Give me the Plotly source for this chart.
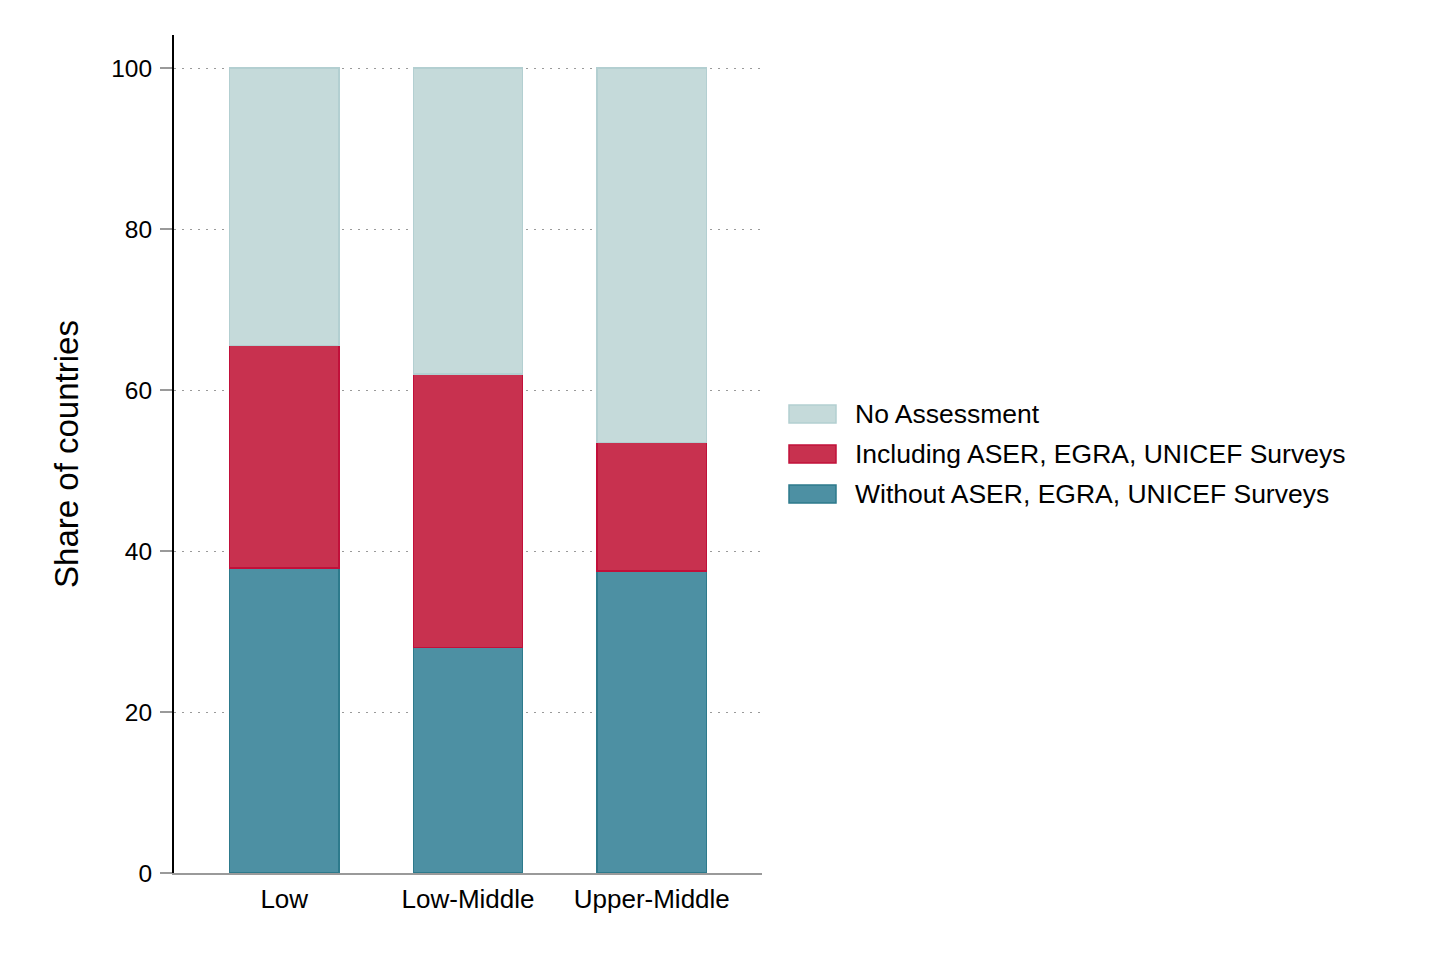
import plotly.graph_objects as go

categories = ["Low", "Low-Middle", "Upper-Middle"]
series_names = ["Without ASER, EGRA, UNICEF Surveys",
                "Including ASER, EGRA, UNICEF Surveys",
                "No Assessment"]
without_vals = [37.9, 28.0, 37.5]
including_vals = [27.6, 34.0, 16.0]
none_vals = [34.5, 38.0, 46.5]
fill_colors = ["#4d90a3", "#c8314f", "#c5dada"]
line_colors = ["#2d7a8c", "#c1103a", "#b3cfd1"]
y_ticks = [0, 20, 40, 60, 80, 100]

OFF = 8  # page offset of the figure
W, H = 1430 - OFF, 954 - OFF
L = 174 - OFF
T = 35 - OFF
R = W - (762 - OFF)
B = H - (873 - OFF)
FONT = "Liberation Sans, Helvetica, Arial, sans-serif"

fig = go.Figure()
for name, vals, fc, lc in zip(series_names, [without_vals, including_vals, none_vals], fill_colors, line_colors):
    fig.add_trace(go.Bar(x=categories, y=vals, name=name, width=0.595,
                         marker=dict(color=fc, line=dict(color=lc, width=1.5)),
                         showlegend=False))

fig.update_layout(
    barmode="stack",
    width=W, height=H,
    margin=dict(l=L, r=R, t=T, b=B),
    plot_bgcolor="white", paper_bgcolor="white",
    font=dict(family=FONT, size=24, color="black"),
    xaxis=dict(range=[-0.6, 2.6], showgrid=False, showline=True, linecolor="#9a9a9a",
               linewidth=2, ticks="", tickfont=dict(size=26), zeroline=False,
               ticklabelstandoff=2),
    yaxis=dict(range=[0, 104.1], tickvals=y_ticks, showgrid=True, gridcolor="#9a9a9a",
               gridwidth=1, griddash="2px,6px", showline=True, linecolor="black", linewidth=2,
               ticks="outside", ticklen=12, tickcolor="#9a9a9a", tickwidth=2,
               tickfont=dict(size=24.5), zeroline=False, ticklabelstandoff=3,
               title=dict(text="Share of countries", font=dict(size=33), standoff=23)),
)

# manual legend (large swatches), positions given in screenshot pixels
pw = W - L - R
ph = H - T - B
def px_x(x):
    return (x - OFF - L) / pw
def px_y(y):
    return (H - B - (y - OFF)) / ph

legend_rows = [(2, 414), (1, 454), (0, 494)]
for idx, yc in legend_rows:
    fig.add_shape(type="rect", xref="paper", yref="paper",
                  x0=px_x(789), x1=px_x(836), y0=px_y(yc + 9), y1=px_y(yc - 9),
                  fillcolor=fill_colors[idx], line=dict(color=line_colors[idx], width=1.5))
    fig.add_annotation(xref="paper", yref="paper", x=px_x(853), y=px_y(yc),
                       text=series_names[idx], showarrow=False, xanchor="left", yanchor="middle",
                       font=dict(size=26.5, color="black", family=FONT))

fig.write_html("out.html")
